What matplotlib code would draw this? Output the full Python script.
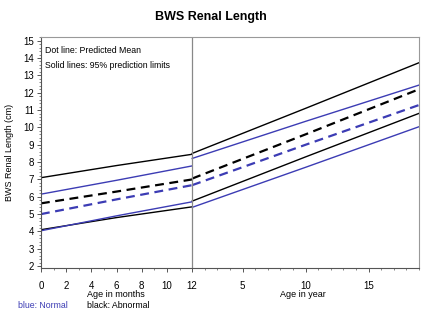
import numpy as np
import matplotlib
matplotlib.use('Agg')
import matplotlib.pyplot as plt
from matplotlib.ticker import FixedLocator, MultipleLocator

plt.rcParams['font.family'] = ['Liberation Sans', 'DejaVu Sans']

# left panel: age in months, right panel: age in years
months = [0, 6, 12]
years = [1, 10, 19]

# left part (months)
abn_upper_m = [7.1, 7.8, 8.45]
nor_upper_m = [6.15, 6.95, 7.78]
abn_mean_m = [5.62, 6.3, 7.0]
nor_mean_m = [5.0, 5.85, 6.67]
abn_lower_m = [4.1, 4.8, 5.42]
nor_lower_m = [4.04, 4.9, 5.71]

# right part (years)
abn_upper_y = [8.5, 11.1, 13.73]
nor_upper_y = [8.21, 10.35, 12.44]
abn_mean_y = [7.05, 9.6, 12.2]
nor_mean_y = [6.67, 9.0, 11.29]
abn_lower_y = [5.75, 8.3, 10.81]
nor_lower_y = [5.39, 7.7, 10.04]

month_ticks = [0, 2, 4, 6, 8, 10, 12]
year_ticks = [5, 10, 15]
yticks = list(range(2, 16))

blue = '#3c3cb4'

# one month on the left takes the same width as one year on the right
def yr(v):
    return np.asarray(v) + 11

fig = plt.figure(figsize=(4.22, 3.11), dpi=100)
ax = fig.add_axes([0.097, 0.137, 0.896, 0.745])

series = [
    (abn_upper_m, abn_upper_y, 'black', '-', 1.0),
    (nor_upper_m, nor_upper_y, blue, '-', 1.0),
    (abn_mean_m, abn_mean_y, 'black', '--', 1.6),
    (nor_mean_m, nor_mean_y, blue, '--', 1.6),
    (abn_lower_m, abn_lower_y, 'black', '-', 1.0),
    (nor_lower_m, nor_lower_y, blue, '-', 1.0),
]
for left, right, c, ls, lw in series:
    kw = dict(color=c, ls=ls, lw=lw)
    if ls == '--':
        kw['dashes'] = (4, 2.5)
    ax.plot(months, left, **kw)
    ax.plot(yr(years), right, **kw)

ax.axvline(12, color='#888888', lw=0.9)

ax.set_xlim(0, 30)
ax.set_ylim(1.87, 15.23)

major_x = month_ticks + list(yr(year_ticks))
ax.xaxis.set_major_locator(FixedLocator(major_x))
ax.set_xticklabels([str(m) for m in month_ticks] + [str(y) for y in year_ticks])
minor_x = [1, 3, 5, 7, 9, 11] + [v for v in range(13, 31) if v not in major_x]
ax.xaxis.set_minor_locator(FixedLocator(minor_x))
ax.set_yticks(yticks)
ax.yaxis.set_minor_locator(MultipleLocator(0.2))

ax.tick_params(axis='x', which='major', labelsize=7, length=3, width=0.7, pad=6, color='#555555')
ax.tick_params(axis='y', which='major', labelsize=7, length=3, width=0.7, pad=2, color='#555555')
ax.tick_params(axis='both', which='minor', length=1.5, width=0.5, color='#555555')
for s in ['top', 'right']:
    ax.spines[s].set_color('#999999')
    ax.spines[s].set_linewidth(0.8)
for s in ['left', 'bottom']:
    ax.spines[s].set_color('#555555')
    ax.spines[s].set_linewidth(0.8)

ax.set_ylabel('BWS Renal Length (cm)', fontsize=6.5)
ax.yaxis.set_label_coords(-0.07, 0.5)

ax.text(0.012, 0.96, 'Dot line: Predicted Mean', transform=ax.transAxes, fontsize=6.3, va='top')
ax.text(0.012, 0.895, 'Solid lines: 95% prediction limits', transform=ax.transAxes, fontsize=6.3, va='top')

fig.text(0.5, 0.945, 'BWS Renal Length', ha='center', va='center', fontsize=9, fontweight='bold')
fig.text(0.275, 0.052, 'Age in months', ha='center', va='center', fontsize=6.5)
fig.text(0.718, 0.052, 'Age in year', ha='center', va='center', fontsize=6.5)
fig.text(0.043, 0.018, 'blue: Normal', ha='left', va='center', fontsize=6.3, color=blue)
fig.text(0.205, 0.018, 'black: Abnormal', ha='left', va='center', fontsize=6.3, color='black')

fig.savefig('out.png', dpi=100)
